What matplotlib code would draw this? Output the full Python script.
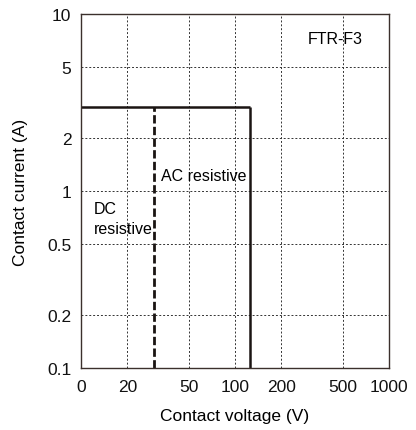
import numpy as np
import matplotlib.pyplot as plt

plt.rcParams['font.family'] = ['Liberation Sans', 'DejaVu Sans']

# axis ticks
x_ticks = [10, 20, 50, 100, 200, 500, 1000]
x_labels = ['0', '20', '50', '100', '200', '500', '1000']
y_ticks = [0.1, 0.2, 0.5, 1, 2, 5, 10]
y_labels = ['0.1', '0.2', '0.5', '1', '2', '5', '10']

# rated limits
max_current = 3      # A
dc_voltage = 30      # V, DC resistive
ac_voltage = 125     # V, AC resistive

fig = plt.figure(figsize=(4.16, 4.31), dpi=100)
ax = fig.add_axes([0.1947, 0.1439, 0.7404, 0.8213])
ax.set_xscale('log')
ax.set_yscale('log')
ax.set_xlim(10, 1000)
ax.set_ylim(0.1, 10)

ax.set_xticks(x_ticks)
ax.set_xticklabels(x_labels)
ax.set_yticks(y_ticks)
ax.set_yticklabels(y_labels)
ax.minorticks_off()
ax.tick_params(length=0, labelsize=12.5, colors='#111111')
ax.tick_params(axis='x', pad=8)
ax.tick_params(axis='y', pad=7)

ax.grid(True, which='major', linestyle=(0, (2, 2)), linewidth=0.7, color='#333333')
for s in ax.spines.values():
    s.set_color('#3b302c')
    s.set_linewidth(1.0)

# AC limit: solid
ax.plot([10, ac_voltage], [max_current, max_current], color='#1a1412', lw=1.8, solid_capstyle='butt')
ax.plot([ac_voltage, ac_voltage], [0.1, max_current], color='#1a1412', lw=1.8, solid_capstyle='butt')
# DC limit: dashed
ax.plot([dc_voltage, dc_voltage], [0.1, max_current], color='#1a1412', lw=2.0, linestyle=(0, (3, 1.2)))

ax.text(33, 1.22, 'AC resistive', fontsize=11.5, ha='left', va='center')
ax.text(12.1, 0.70, 'DC\nresistive', fontsize=11.5, ha='left', va='center', linespacing=1.35)
ax.text(678, 7.3, 'FTR-F3', fontsize=11.5, ha='right', va='center')

ax.set_xlabel('Contact voltage (V)', fontsize=12.5, labelpad=10)
ax.set_ylabel('Contact current (A)', fontsize=12.5, labelpad=14)

fig.savefig('out.png', dpi=100)
